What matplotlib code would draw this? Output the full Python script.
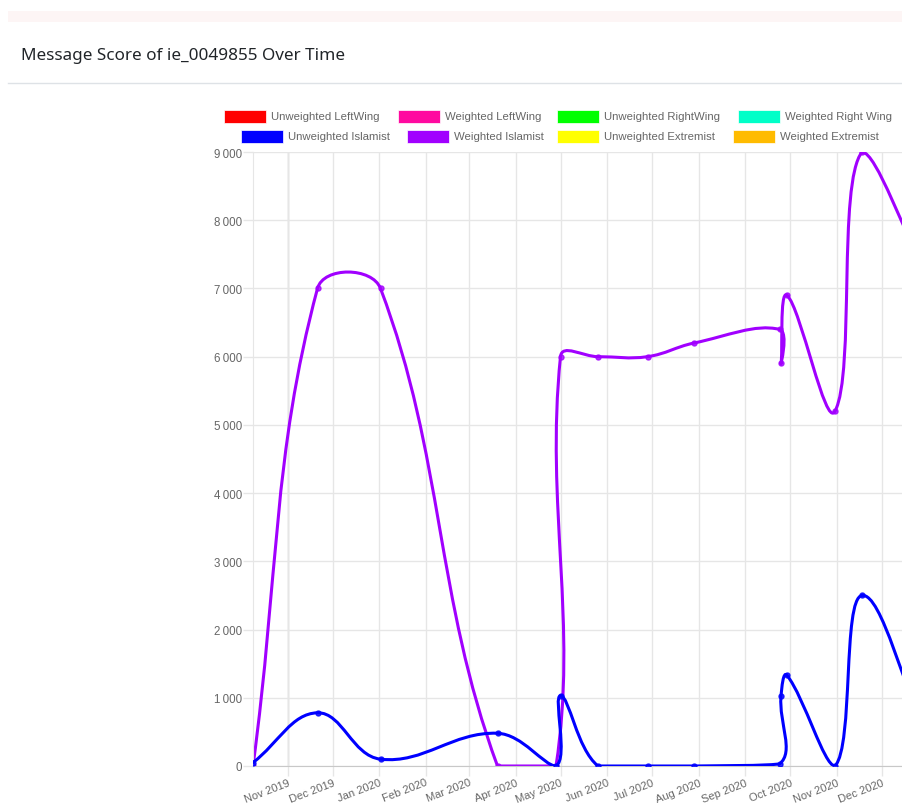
import datetime as dt
import numpy as np
import matplotlib
matplotlib.use("Agg")
import matplotlib.pyplot as plt
import matplotlib.dates as mdates
from matplotlib.path import Path
from matplotlib.patches import PathPatch, Rectangle
from matplotlib.lines import Line2D

# %% Data
dates = ["2019-10-09", "2019-11-21", "2020-01-02", "2020-03-20", "2020-04-28",
         "2020-05-01", "2020-05-26", "2020-06-28", "2020-07-29", "2020-09-24",
         "2020-09-25", "2020-09-29", "2020-10-31", "2020-11-18", "2021-01-04"]
unweighted_islamist = [50, 780, 100, 480, 0, 1030, 0, 0, 0, 30, 1020, 1330, 0, 2500, 200]
weighted_islamist = [0, 7000, 7000, 0, 0, 6000, 6000, 6000, 6200, 6400, 5900, 6900, 5200, 9000, 7000]

legend_names = ["Unweighted LeftWing", "Weighted LeftWing", "Unweighted RightWing",
                "Weighted Right Wing", "Unweighted Islamist", "Weighted Islamist",
                "Unweighted Extremist", "Weighted Extremist"]
legend_colors = ["#ff0000", "#ff0aa0", "#00ff00", "#00ffc8",
                 "#0000ff", "#a100ff", "#ffff00", "#ffbb00"]

month_ticks = ["2019-11-01", "2019-12-01", "2020-01-01", "2020-02-01", "2020-03-01",
               "2020-04-01", "2020-05-01", "2020-06-01", "2020-07-01", "2020-08-01",
               "2020-09-01", "2020-10-01", "2020-11-01", "2020-12-01"]
y_ticks = list(range(0, 9001, 1000))

# %% Figure
W, H = 902, 812
fig = plt.figure(figsize=(W / 100, H / 100), dpi=100)
fig.patch.set_facecolor("white")


def fx(x):
    return x / W


def fy(y):
    return 1 - y / H


# page chrome
fig.add_artist(Rectangle((fx(8), fy(23)), fx(894), 11 / H, transform=fig.transFigure,
                         facecolor="#fdf5f5", edgecolor="none"))
fig.add_artist(Line2D([fx(8), 1], [fy(84), fy(84)], transform=fig.transFigure,
                      color="#dee2e6", lw=1))
fig.text(fx(21), fy(56), "Message Score of ie_0049855 Over Time", fontsize=12.3,
         family="Noto Sans", color="#212529", va="center", ha="left")

# %% Axes: 1.5 px per day, left edge at the first data point
t = [dt.datetime.strptime(d, "%Y-%m-%d") for d in dates]
span_days = (t[-1] - t[0]).days
ax_left, ax_top, ax_bottom = 253, 153, 767
ax = fig.add_axes([fx(ax_left), fy(ax_bottom), 1.5 * span_days / W, (ax_bottom - ax_top) / H])
ax.set_xlim(mdates.date2num(t[0]), mdates.date2num(t[-1]))
ax.set_ylim(0, 9000)

grid_c = "#e6e6e6"
zero_c = "#c8c8c8"
tick_dates = [dt.datetime.strptime(d, "%Y-%m-%d") for d in month_ticks]
ax.set_xticks(mdates.date2num(tick_dates))
ax.set_xticklabels([d.strftime("%b %Y") for d in tick_dates])
ax.set_yticks(y_ticks)
ax.set_yticklabels([f"{v // 1000}\u2009000" if v else "0" for v in y_ticks])
ax.grid(True, color=grid_c, lw=1)
ax.tick_params(axis="both", colors=grid_c, length=7, width=1, labelcolor="#666666",
               labelsize=8.3)
ax.tick_params(axis="y", pad=1)
ax.tick_params(axis="x", pad=1, labelsize=8)
for lab in ax.get_xticklabels():
    lab.set_rotation(21)
    lab.set_ha("right")
    lab.set_rotation_mode("anchor")
for lab in ax.get_xticklabels() + ax.get_yticklabels():
    lab.set_family(["Liberation Sans", "DejaVu Sans"])
for s in ["top", "right"]:
    ax.spines[s].set_visible(False)
ax.spines["left"].set_color(grid_c)
ax.spines["bottom"].set_color(zero_c)
ax.axvline(mdates.date2num(tick_dates[0]), color=zero_c, lw=1, zorder=0.5)
ax.set_axisbelow(True)


# %% Chart.js style bezier curve (tension 0.4, control points capped to area)
def spline_path(xs, ys, tension=0.4):
    pts = ax.transData.transform(np.column_stack([xs, ys]))
    bb = ax.bbox
    n = len(pts)
    cp_prev, cp_next = [], []
    for i in range(n):
        cur = pts[i]
        prev = pts[i - 1] if i > 0 else cur
        nxt = pts[i + 1] if i < n - 1 else cur
        d01 = np.hypot(*(cur - prev))
        d12 = np.hypot(*(nxt - cur))
        tot = d01 + d12
        s01 = d01 / tot if tot else 0
        s12 = d12 / tot if tot else 0
        a = cur - tension * s01 * (nxt - prev)
        b = cur + tension * s12 * (nxt - prev)
        for c in (a, b):
            c[0] = min(max(c[0], bb.x0), bb.x1)
            c[1] = min(max(c[1], bb.y0), bb.y1)
        cp_prev.append(a)
        cp_next.append(b)
    verts = [pts[0]]
    codes = [Path.MOVETO]
    for i in range(1, n):
        verts += [cp_next[i - 1], cp_prev[i], pts[i]]
        codes += [Path.CURVE4] * 3
    verts = ax.transData.inverted().transform(np.array(verts))
    return Path(verts, codes)


xnum = mdates.date2num(t)
series = [(weighted_islamist, legend_colors[5], 2), (unweighted_islamist, legend_colors[4], 3)]
for vals, col, z in series:
    ax.add_patch(PathPatch(spline_path(xnum, vals), facecolor="none", edgecolor=col,
                           lw=2.2, zorder=z, capstyle="round", joinstyle="round"))
    ax.plot(xnum, vals, "o", color=col, ms=3.6, alpha=0.8, zorder=z, clip_on=True)

# %% Legend (Chart.js style, two centred rows)
box_left = [224, 398, 557, 738, 241, 407, 557, 733]
row_y = [117, 137]
for i, (name, col) in enumerate(zip(legend_names, legend_colors)):
    x0 = box_left[i]
    y0 = row_y[i // 4]
    fig.add_artist(Rectangle((fx(x0), fy(y0 + 6.5)), 42 / W, 13 / H,
                             transform=fig.transFigure, facecolor=col,
                             edgecolor="white", lw=0.5))
    fig.text(fx(x0 + 47), fy(y0), name, fontsize=8.2, color="#666666",
             family=["Liberation Sans", "DejaVu Sans"], va="center", ha="left")

fig.savefig("out.png", dpi=100)
